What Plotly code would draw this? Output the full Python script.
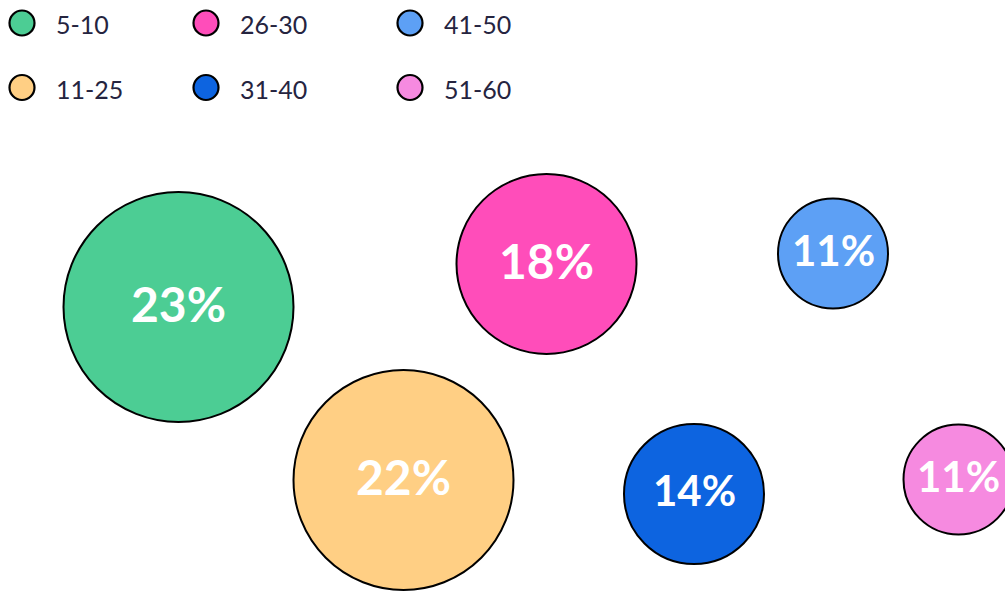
import plotly.graph_objects as go

# ---- data ----
categories = ["5-10", "11-25", "26-30", "31-40", "41-50", "51-60"]
values = [23, 22, 18, 14, 11, 11]
colors = ["#4CCD94", "#FFCF84", "#FF4DBA", "#0D64E0", "#5DA0F5", "#F68AE0"]
bubble_x = [178.5, 403.5, 546.5, 694, 833, 958.5]
bubble_y = [307, 480, 264, 494, 253.5, 479.5]

# legend layout (pixel-like coordinates of the hidden axes)
legend_col_x = [22, 206, 410]
legend_row_y = [23, 87.5]

W, H = 1005, 591

fig = go.Figure()

labels = [f"{v}%" for v in values]
label_sizes = [48 if v >= 18 else 42 for v in values]

fig.add_trace(go.Scatter(
    x=bubble_x, y=bubble_y,
    mode="markers",
    marker=dict(size=values, sizemode="diameter", sizeref=0.1,
                color=colors, line=dict(color="black", width=2), opacity=1),
    hoverinfo="skip",
    showlegend=False,
    cliponaxis=True,
))

for lab, bx, by, fs in zip(labels, bubble_x, bubble_y, label_sizes):
    fig.add_annotation(
        x=bx, y=by, text=lab, showarrow=False,
        xanchor="center", yanchor="middle", yshift=4,
        font=dict(family="Lato", size=fs, color="white", weight="bold"),
    )

leg_x = [legend_col_x[i // 2] for i in range(len(categories))]
leg_y = [legend_row_y[i % 2] for i in range(len(categories))]

fig.add_trace(go.Scatter(
    x=leg_x, y=leg_y,
    mode="markers",
    marker=dict(size=25, color=colors, line=dict(color="black", width=2.2)),
    hoverinfo="skip",
    showlegend=False,
    cliponaxis=False,
))

for cat, lx, ly in zip(categories, leg_x, leg_y):
    fig.add_annotation(
        x=lx + 32, y=ly + 1, text=cat, showarrow=False,
        xanchor="left", yanchor="middle",
        font=dict(family="Lato", size=25, color="#25243F"),
    )

fig.update_layout(
    width=W, height=H,
    margin=dict(l=0, r=0, t=0, b=0),
    paper_bgcolor="white", plot_bgcolor="white",
    xaxis=dict(range=[0, W], visible=False, fixedrange=True),
    yaxis=dict(range=[H, 0], visible=False, fixedrange=True),
    showlegend=False,
)

fig.write_html("out.html")
